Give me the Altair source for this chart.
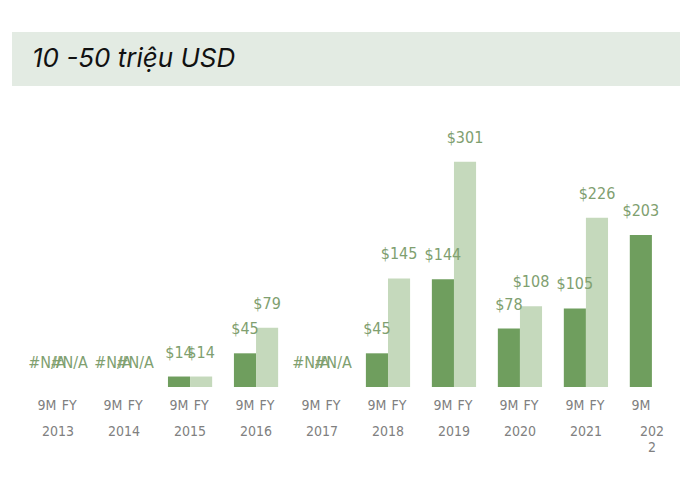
import altair as alt
import pandas as pd

title_text = "10 -50 triệu USD"
years = ["2013", "2014", "2015", "2016", "2017", "2018", "2019", "2020", "2021", "2022"]
series = ["9M", "FY"]
# None = "#N/A" shown in the source chart
values_9m = [None, None, 14, 45, None, 45, 144, 78, 105, 203]
values_fy = [None, None, 14, 79, None, 145, 301, 108, 226]  # 2022 has no FY

rows = []
for y, v in zip(years, values_9m):
    rows.append({"year": y, "series": "9M", "value": v if v is not None else 0,
                 "label": f"${v}" if v is not None else "#N/A"})
for y, v in zip(years, values_fy):
    rows.append({"year": y, "series": "FY", "value": v if v is not None else 0,
                 "label": f"${v}" if v is not None else "#N/A"})
df = pd.DataFrame(rows)

FONT = "DejaVu Sans Condensed, Liberation Sans, Arial, sans-serif"
DARK = "#6f9e5e"
LIGHT = "#c5d9bc"
LABEL_GREEN = "#7fa070"
GRAY = "#808080"

x_enc = alt.X("year:N", sort=years,
              scale=alt.Scale(paddingInner=0.33, paddingOuter=0.2576, align=0.706),
              axis=alt.Axis(title=None, domain=False, ticks=False, tickSize=0,
                            labelPadding=37, labelFont=FONT, labelFontSize=14,
                            labelColor=GRAY, labelAngle=0,
                            labelExpr="datum.value == '2022' ? ['202', '2'] : datum.label"))
xo_enc = alt.XOffset("series:N", sort=series, scale=alt.Scale(domain=series))
y_enc = alt.Y("value:Q", scale=alt.Scale(domain=[0, 370], nice=False, zero=True), axis=None)

base = alt.Chart(df)

bars = base.mark_bar().encode(
    x=x_enc, xOffset=xo_enc, y=y_enc,
    color=alt.Color("series:N", sort=series,
                    scale=alt.Scale(domain=series, range=[DARK, LIGHT]), legend=None),
)

labels = base.mark_text(font=FONT, fontSize=16, color=LABEL_GREEN,
                        baseline="alphabetic", dy=-19).encode(
    x=x_enc, xOffset=xo_enc, y=y_enc, text="label:N"
)

series_labels = base.mark_text(font=FONT, fontSize=14, color=GRAY,
                               baseline="middle", dy=19).encode(
    x=x_enc, xOffset=xo_enc, y=alt.datum(0), text="series:N"
)

main = alt.layer(bars, labels, series_labels).properties(
    width=672, height=277,
    view=alt.ViewBackground(strokeWidth=0),
)

banner = alt.Chart(pd.DataFrame({"t": [title_text]})).mark_text(
    font="Inter", fontSize=26, fontStyle="italic", color="#111111",
    align="left", baseline="middle", dx=20
).encode(
    x=alt.value(0), y=alt.value(27), text="t:N"
).properties(
    width=668, height=54,
    view=alt.ViewBackground(fill="#e3ebe3", strokeWidth=0),
)

chart = alt.vconcat(banner, main, spacing=24).properties(
    padding={"left": 4, "top": 24, "right": 4, "bottom": 4},
    background="white",
).configure_view(strokeWidth=0)

chart.save("out.html", embed_options={"renderer": "svg", "actions": False})
